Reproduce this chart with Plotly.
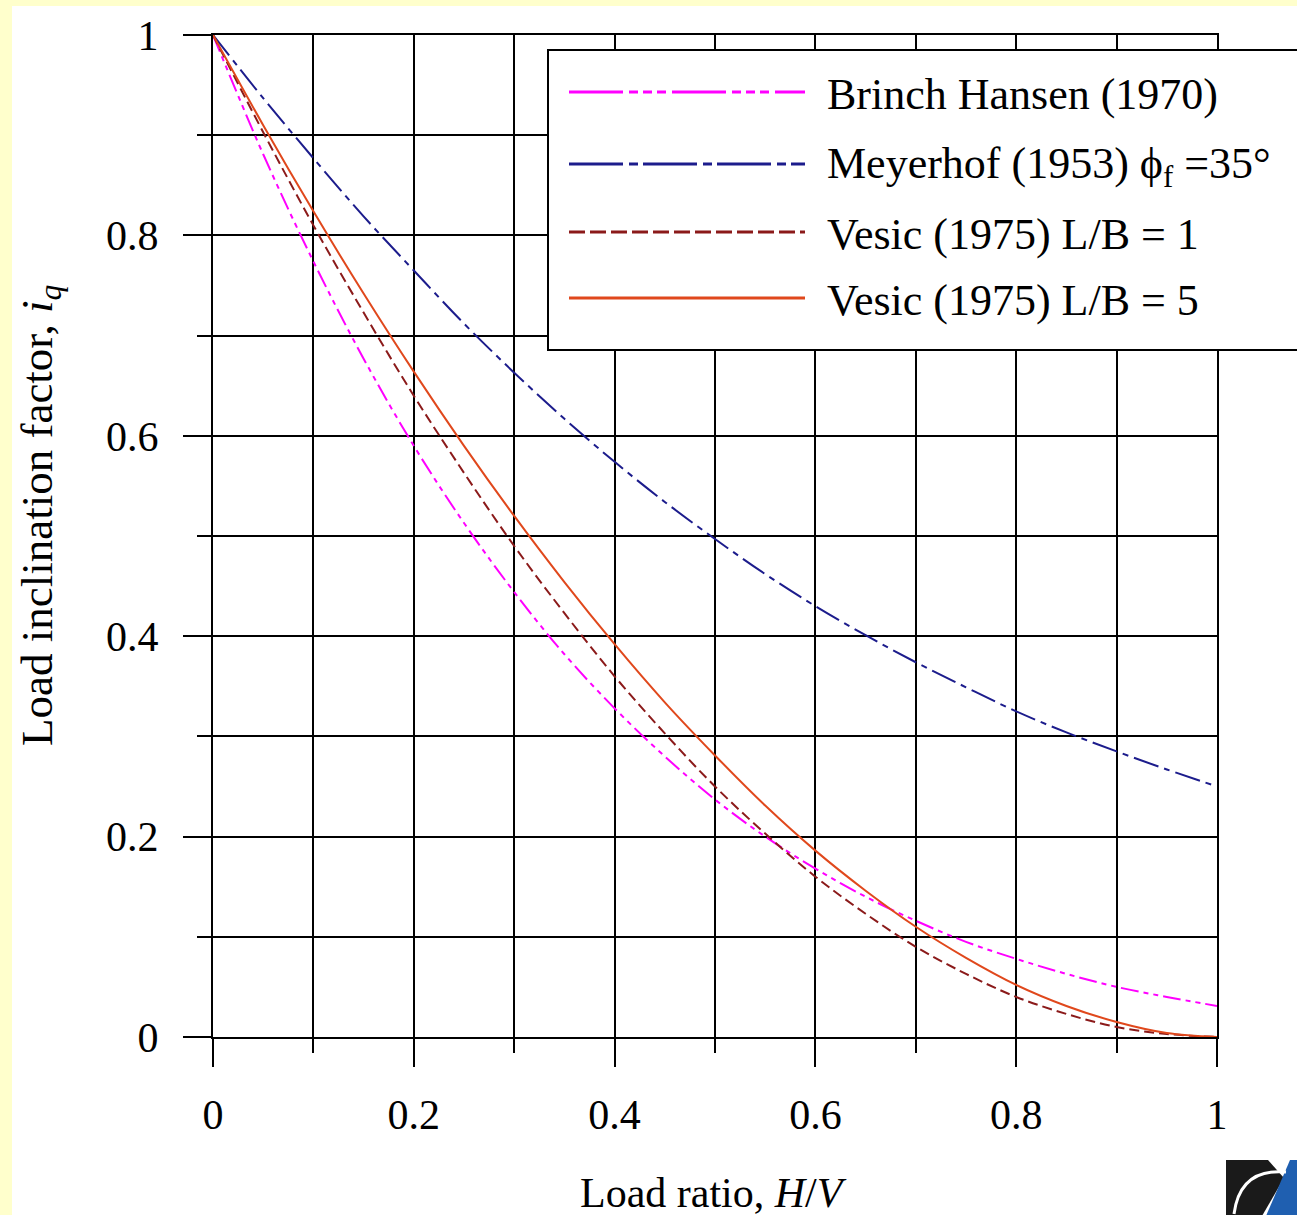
import plotly.graph_objects as go

# ---- data ----
hv = [0.00, 0.05, 0.10, 0.15, 0.20, 0.25, 0.30, 0.35, 0.40, 0.45, 0.50,
      0.55, 0.60, 0.65, 0.70, 0.75, 0.80, 0.85, 0.90, 0.95, 1.00]
brinch_hansen = [1.000, 0.881, 0.774, 0.677, 0.590, 0.513, 0.444, 0.382, 0.328, 0.280, 0.237,
                 0.200, 0.168, 0.140, 0.116, 0.095, 0.078, 0.063, 0.050, 0.040, 0.031]
meyerhof = [1.000, 0.937, 0.877, 0.819, 0.765, 0.712, 0.663, 0.617, 0.574, 0.534, 0.497,
            0.462, 0.430, 0.401, 0.374, 0.349, 0.325, 0.304, 0.285, 0.267, 0.250]
vesic_lb1 = [1.000, 0.903, 0.810, 0.723, 0.640, 0.563, 0.490, 0.423, 0.360, 0.303, 0.250,
             0.203, 0.160, 0.123, 0.090, 0.063, 0.040, 0.023, 0.010, 0.003, 0.000]
vesic_lb5 = [1.000, 0.910, 0.824, 0.742, 0.664, 0.590, 0.520, 0.454, 0.392, 0.334, 0.281,
             0.231, 0.186, 0.146, 0.110, 0.079, 0.052, 0.031, 0.015, 0.004, 0.000]

series_names = ["Brinch Hansen (1970)",
                "Meyerhof (1953) ϕ<sub>f</sub> =35°",
                "Vesic (1975) L/B = 1",
                "Vesic (1975) L/B = 5"]
tick_vals = [0, 0.2, 0.4, 0.6, 0.8, 1]
tick_text = ["0", "0.2", "0.4", "0.6", "0.8", "1"]

# ---- styles ----
colors = ["#FF00FF", "#1C1C8C", "#8B1A1A", "#E0481C"]
curve_dash = ["18px,5px,5px,5px,5px,5px", "26px,6px,6px,6px", "10px,5px", "solid"]
legend_dash = ["54px,6px,9px,5px,9px,5px,9px,6px", "54px,6px,9px,5px", "16px,5px", "solid"]
FONT = "Liberation Serif, Times New Roman, serif"

# plot area in pixels
L, R, T, B = 213, 1217, 35, 1037
W, H = R - L, B - T
def px(x):
    return (x - L) / W
def py(y):
    return (B - y) / H

fig = go.Figure()
for ys, name, c, d in zip([brinch_hansen, meyerhof, vesic_lb1, vesic_lb5],
                          series_names, colors, curve_dash):
    fig.add_trace(go.Scatter(x=hv, y=ys, mode="lines", name=name,
                             line=dict(color=c, width=2, dash=d, shape="spline"),
                             showlegend=False))

axis_common = dict(
    range=[0, 1], tickvals=tick_vals, ticktext=tick_text,
    ticks="outside", ticklen=28, tickwidth=2, tickcolor="black",
    showgrid=True, gridcolor="black", gridwidth=2,
    showline=True, linecolor="black", linewidth=2, mirror=True,
    zeroline=False, tickfont=dict(family=FONT, size=42, color="black"),
    minor=dict(dtick=0.1, tick0=0, ticks="outside", ticklen=14, tickwidth=2,
               tickcolor="black", showgrid=True, gridcolor="black", gridwidth=2),
)
fig.update_xaxes(**axis_common, ticklabelstandoff=12)
fig.update_yaxes(**axis_common, ticklabelstandoff=16)

shapes = [
    # white panel over yellow page
    dict(type="rect", xref="paper", yref="paper", x0=px(12), x1=px(1300), y0=py(1220), y1=py(6),
         fillcolor="white", line=dict(width=0), layer="below"),
    # legend box
    dict(type="rect", xref="paper", yref="paper", x0=px(548), x1=px(1310), y0=py(350), y1=py(50),
         fillcolor="white", line=dict(color="black", width=2), layer="above"),
]
annotations = []
rows = [92, 164, 232, 298]
for ry, name, c, d in zip(rows, series_names, colors, legend_dash):
    shapes.append(dict(type="line", xref="paper", yref="paper", x0=px(569), x1=px(805),
                       y0=py(ry), y1=py(ry), line=dict(color=c, width=3, dash=d), layer="above"))
    annotations.append(dict(xref="paper", yref="paper", x=px(825), y=py(ry + 2), text=name,
                            showarrow=False, xanchor="left", yanchor="middle",
                            font=dict(family=FONT, size=44, color="black")))

# axis titles
annotations.append(dict(xref="paper", yref="paper", x=px(713), y=py(1193),
                        text="Load ratio, <i>H</i>/<i>V</i>", showarrow=False,
                        xanchor="center", yanchor="middle",
                        font=dict(family=FONT, size=42, color="black")))
annotations.append(dict(xref="paper", yref="paper", x=px(40), y=py(515),
                        text="Load inclination factor, <i>i<sub>q</sub></i>", showarrow=False,
                        textangle=-90, xanchor="center", yanchor="middle",
                        font=dict(family=FONT, size=45, color="black")))

# small corner logo
shapes.append(dict(type="path", xref="paper", yref="paper",
                   path="M {},{} L {},{} L {},{} L {},{} L {},{} Z".format(
                       px(1226), py(1160), px(1268), py(1160), px(1284), py(1178),
                       px(1262), py(1216), px(1226), py(1216)),
                   fillcolor="#1A1A1A", line=dict(width=0), layer="above"))
shapes.append(dict(type="path", xref="paper", yref="paper",
                   path="M {},{} L {},{} L {},{} L {},{} Z".format(
                       px(1290), py(1160), px(1300), py(1160), px(1300), py(1216), px(1266), py(1216)),
                   fillcolor="#1F5FB0", line=dict(width=0), layer="above"))
shapes.append(dict(type="path", xref="paper", yref="paper",
                   path="M {},{} Q {},{} {},{}".format(
                       px(1234), py(1214), px(1240), py(1168), px(1286), py(1172)),
                   line=dict(color="white", width=3), layer="above"))

fig.update_layout(
    width=1297, height=1215,
    margin=dict(l=L, r=1297 - R, t=T, b=1215 - B, pad=0),
    paper_bgcolor="#FFFFCC", plot_bgcolor="white",
    showlegend=False, shapes=shapes, annotations=annotations,
    font=dict(family=FONT, color="black"),
)
fig.write_html("out.html")
